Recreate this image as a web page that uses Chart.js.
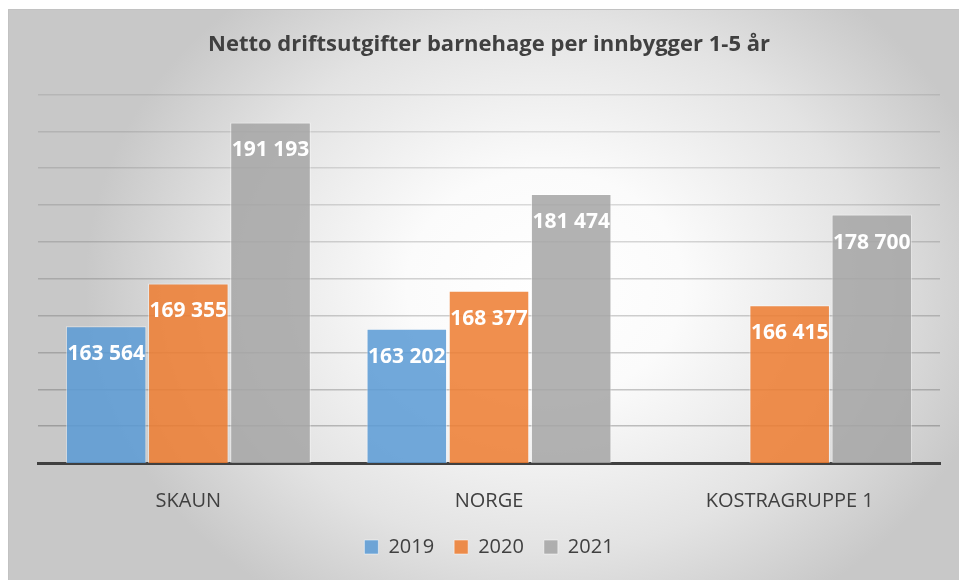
<!DOCTYPE html>
<html>
<head>
<meta charset="utf-8">
<script src="https://cdn.jsdelivr.net/npm/chart.js@4"></script>
<style>
  html, body { margin: 0; padding: 0; background: #fff; }
  canvas { display: block; }
</style>
</head>
<body>
<canvas id="chart" width="959" height="580"></canvas>
<script>
const categories = ['SKAUN', 'NORGE', 'KOSTRAGRUPPE 1']
const years = ['2019', '2020', '2021']
const values2019 = [163564, 163202, null]
const values2020 = [169355, 168377, 166415]
const values2021 = [191193, 181474, 178700]
const yMin = 145000
const yMax = 195000
const yStep = 5000

const FONT = "'Open Sans', 'Noto Sans', sans-serif"
const TEXT = '#404040'

const fills = ['rgba(91,155,213,0.86)', 'rgba(237,125,49,0.86)', 'rgba(165,165,165,0.86)']

function formatValue (v) {
  return String(v).replace(/\B(?=(\d{3})+(?!\d))/g, ' ')
}

// grey "from centre" backdrop like the office chart style
const backdrop = {
  id: 'backdrop',
  beforeDraw (chart) {
    const { ctx, width, height } = chart
    ctx.save()
    ctx.fillStyle = '#fff'
    ctx.fillRect(0, 0, width, height)
    const cx = 545, cy = 285, rx = 460, ry = 380
    ctx.translate(cx, cy)
    ctx.scale(1, ry / rx)
    const g = ctx.createRadialGradient(0, 0, 0, 0, 0, rx)
    g.addColorStop(0, '#ffffff')
    g.addColorStop(0.3, '#fbfbfb')
    g.addColorStop(0.7, '#e3e3e3')
    g.addColorStop(1, '#c8c8c8')
    ctx.fillStyle = g
    ctx.fillRect(8 - cx, (9 - cy) * rx / ry, width, height * rx / ry)
    ctx.restore()
    ctx.save()
    ctx.strokeStyle = '#c2c2c2'
    ctx.lineWidth = 1
    ctx.beginPath()
    ctx.moveTo(8.5, height)
    ctx.lineTo(8.5, 9.5)
    ctx.lineTo(width, 9.5)
    ctx.stroke()
    ctx.restore()
  }
}

const valueLabels = {
  id: 'valueLabels',
  afterDatasetsDraw (chart) {
    const { ctx } = chart
    ctx.save()
    ctx.fillStyle = '#fff'
    ctx.font = `bold 21px ${FONT}`
    ctx.textAlign = 'center'
    ctx.textBaseline = 'middle'
    chart.data.datasets.forEach((ds, i) => {
      const meta = chart.getDatasetMeta(i)
      meta.data.forEach((bar, j) => {
        const v = ds.data[j]
        if (v == null) return
        ctx.fillText(formatValue(v), bar.x, bar.y + 28)
      })
    })
    ctx.restore()
  }
}

new Chart(document.getElementById('chart').getContext('2d'), {
  type: 'bar',
  data: {
    labels: categories,
    datasets: [values2019, values2020, values2021].map((values, i) => ({
      label: years[i],
      data: values,
      backgroundColor: fills[i],
      borderColor: 'rgba(255,255,255,0.5)',
      borderWidth: 1,
      categoryPercentage: 0.82,
      barPercentage: 0.98
    }))
  },
  options: {
    responsive: false,
    animation: false,
    devicePixelRatio: 1,
    layout: { padding: { top: 0, left: 38, right: 19, bottom: 13 } },
    scales: {
      x: {
        grid: { display: false },
        border: { display: true, color: TEXT, width: 3 },
        ticks: { color: TEXT, padding: 18, font: { family: FONT, size: 20 } },
        afterFit (scale) { scale.height = 54 }
      },
      y: {
        min: yMin,
        max: yMax,
        border: { display: false },
        ticks: { display: false, stepSize: yStep },
        grid: {
          drawTicks: false,
          lineWidth: 1.5,
          color (ctx) {
            const t = (ctx.tick.value - yMin) / (yMax - yMin)
            return `rgba(60,60,60,${(0.32 - 0.2 * t).toFixed(3)})`
          }
        }
      }
    },
    plugins: {
      title: {
        display: true,
        text: 'Netto driftsutgifter barnehage per innbygger 1-5 år',
        color: TEXT,
        font: { family: FONT, size: 22, weight: 'bold' },
        padding: { top: 32, bottom: 36 }
      },
      legend: {
        position: 'bottom',
        labels: {
          color: TEXT,
          boxWidth: 14,
          boxHeight: 14,
          padding: 20,
          font: { family: FONT, size: 20 }
        }
      },
      tooltip: { enabled: false }
    }
  },
  plugins: [backdrop, valueLabels]
})
</script>
</body>
</html>
